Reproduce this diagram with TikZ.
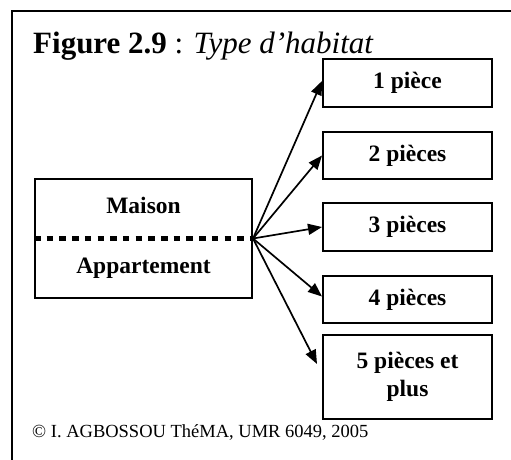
\documentclass[tikz,border=0pt]{standalone}
\usepackage{fontspec}
\setmainfont{Liberation Serif}
\usetikzlibrary{arrows.meta}
\begin{document}
\begin{tikzpicture}[x=1pt,y=-1pt,
  box/.style={draw, line width=2pt, inner sep=0pt, align=center,
    font=\fontsize{23.5}{28}\selectfont\bfseries, minimum width=169pt},
  arr/.style={line width=1.7pt, -{Triangle[length=14pt,width=11pt]}},
  plain/.style={inner sep=0pt, anchor=base west}]
\useasboundingbox (0,0) rectangle (511,459);
\draw[line width=2pt] (12,470) -- (12,11) -- (520,11);
\node[plain, font=\fontsize{31}{34}\selectfont] (title) at (33,53)
  {\textbf{Figure 2.9} : \textit{Type d’habitat}};
\node[box, minimum width=217pt, minimum height=119pt] (m) at (143.5,238.5) {};
\node[font=\fontsize{23.5}{28}\selectfont\bfseries, inner sep=0pt] (mt) at (143.5,205) {Maison};
\node[font=\fontsize{23.5}{28}\selectfont\bfseries, inner sep=0pt] (at) at (143.5,268) {Appartement};
\draw[line width=4.5pt, dash pattern=on 6.5pt off 6.2pt] (m.west) -- (m.east);
\node[box, minimum height=48pt] (b1) at (407.5,83) {1 pièce};
\node[box, minimum height=47pt] (b2) at (407.5,155.5) {2 pièces};
\node[box, minimum height=48pt] (b3) at (407.5,227) {3 pièces};
\node[box, minimum height=47pt] (b4) at (407.5,299.5) {4 pièces};
\node[box, minimum height=84pt] (b5) at (407.5,377) {5 pièces et\\plus};
\draw[arr] (m.east) -- ([shift={(0,-2)}]b1.west);
\draw[arr] (m.east) -- (b2.west);
\draw[arr] (m.east) -- (b3.west);
\draw[arr] (m.east) -- ([shift={(0,-3)}]b4.west);
\draw[arr] (m.east) -- ([shift={(-5,-13)}]b5.west);
\node[plain, font=\fontsize{18.5}{22}\selectfont] (copy) at (32,437)
  {© I. AGBOSSOU ThéMA, UMR 6049, 2005};
\end{tikzpicture}
\end{document}
